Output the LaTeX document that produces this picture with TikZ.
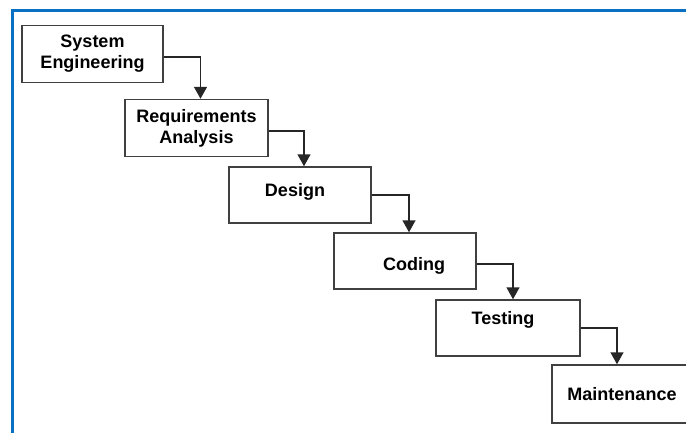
\documentclass[tikz,border=0pt]{standalone}
\usepackage{fontspec}
\setmainfont{Liberation Sans}
\usetikzlibrary{positioning}
\usetikzlibrary{arrows.meta}

\definecolor{framebl}{RGB}{10,112,196}

\begin{document}
\begin{tikzpicture}[x=1pt,y=-1pt,
 stage/.style={draw=black!75,line width=1.5pt,fill=white,minimum height=57pt,inner sep=0pt,
  align=center,font=\fontsize{18}{21}\selectfont\bfseries},
 txt/.style={inner sep=0pt,font=\fontsize{18}{21}\selectfont\bfseries},
 flow/.style={draw=black!85,line width=1.5pt,-{Triangle[width=13pt,length=12pt]}}]
 \clip (0,0) rectangle (686,432);
 \fill[white] (0,0) rectangle (686,432);
 \draw[framebl,line width=3pt] (12,10) rectangle (720,460);
 \node[stage,minimum width=141pt] (se) at (92.5,54) {System\\Engineering};
 \node[stage,minimum width=143pt] (ra) at (196.5,128) {Requirements\\Analysis};
 \node[stage,minimum width=142pt,minimum height=56pt,label={[txt,xshift=-5pt,yshift=3pt]center:Design}] (de) at (300,195) {};
 \node[stage,minimum width=142pt,minimum height=56pt,label={[txt,xshift=9pt,yshift=-5pt]center:Coding}] (co) at (405,261) {};
 \node[stage,minimum width=144pt,minimum height=56pt,label={[txt,xshift=-5pt,yshift=8pt]center:Testing}] (te) at (508,328) {};
 \node[stage,minimum width=140pt,minimum height=58pt] (ma) at (622,394) {Maintenance};
 \draw[flow] ([yshift=-3pt]se.east) -| ([xshift=4pt]ra.north);
 \draw[flow] ([yshift=-3pt]ra.east) -| ([xshift=4pt]de.north);
 \draw[flow] (de.east) -| ([xshift=4pt]co.north);
 \draw[flow] ([yshift=-3pt]co.east) -| ([xshift=5pt]te.north);
 \draw[flow] (te.east) -| ([xshift=-5pt]ma.north);
\end{tikzpicture}
\end{document}
